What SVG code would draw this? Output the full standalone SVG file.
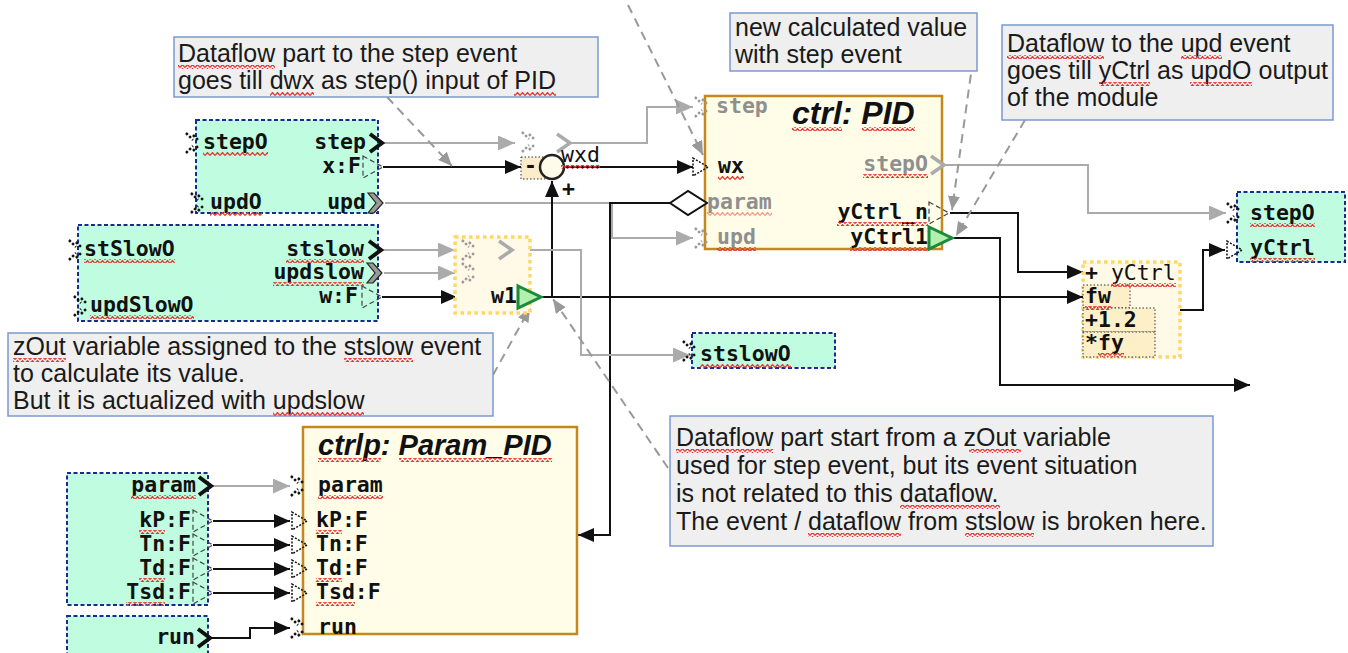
<svg xmlns="http://www.w3.org/2000/svg" width="1348" height="653" viewBox="0 0 1348 653">
<style>
.call{fill:#efefef;stroke:#7b9ad0;stroke-width:1.5}
.ct{font-family:"Liberation Sans",Arial,sans-serif;font-size:25px;fill:#1a1a1a}
.mono{font-family:"DejaVu Sans Mono",monospace;font-size:21.5px;font-weight:bold;fill:#111}
.mn{font-weight:normal}
.gt{fill:#8f8f8f}
.mint{fill:#c0fde0;stroke:#1c2a8f;stroke-width:2;stroke-dasharray:4,2.5}
.mod{fill:#fffde8;stroke:#c4891d;stroke-width:2.5}
.title{font-family:"Liberation Sans",Arial,sans-serif;font-weight:bold;font-style:italic;fill:#111}
.blk{fill:none;stroke:#111;stroke-width:2}
.gry{fill:none;stroke:#ababab;stroke-width:2}
.lead{fill:none;stroke:#999;stroke-width:2;stroke-dasharray:9,6}
.ylw{fill:#fff9e8;stroke:#ffd766;stroke-width:3.5;stroke-dasharray:3.5,3.5}
.cell{fill:#fdf0c8;stroke:#333;stroke-width:1;stroke-dasharray:1.5,2}
#spell rect{fill:url(#wv);height:4px}
</style>
<defs>
<pattern id="wv" patternUnits="userSpaceOnUse" width="5" height="4"><path d="M0,3.5L2.5,0.5L5,3.5" fill="none" stroke="#e53935" stroke-width="1.2"/></pattern>
<marker id="ab" viewBox="0 0 16 14" refX="16" refY="7" markerWidth="16" markerHeight="14" markerUnits="userSpaceOnUse" orient="auto"><path d="M0,0L16,7L0,14z" fill="#111"/></marker>
<marker id="ag" viewBox="0 0 16 14" refX="16" refY="7" markerWidth="17" markerHeight="15" markerUnits="userSpaceOnUse" orient="auto"><path d="M0,0L16,7L0,14z" fill="#ababab"/></marker>
<marker id="al" viewBox="0 0 14 12" refX="14" refY="6" markerWidth="14" markerHeight="12" markerUnits="userSpaceOnUse" orient="auto"><path d="M0,0L14,6L0,12z" fill="#999"/></marker>
<path id="evin" d="M-14,-10L-7,-3M-14,10L-7,3M-7,-8L-1,-2M-7,8L-1,2" fill="none" stroke="currentColor" stroke-width="2.5" stroke-dasharray="2.5,2"/>
<path id="din" d="M-14,-9L1,0L-14,9z" fill="none" stroke="#111" stroke-width="1.5" stroke-dasharray="2,1.5"/>
<path id="dout" d="M0,-11L20,0L0,11z" fill="none" stroke="#444" stroke-width="1.2" stroke-dasharray="5,3"/>
<path id="evo" d="M0,-9L12,0L0,9" fill="none" stroke="#111" stroke-width="4"/>
<path id="evog" d="M0,-10L6,-10L15,0L6,10L0,10L8,0z" fill="#9a9a9a" stroke="#222" stroke-width="1.2"/>
<path id="evgg" d="M0,-9L13,0L0,9" fill="none" stroke="#ababab" stroke-width="3.5"/>
<path id="gtri" d="M0,-11L23,0L0,11z" fill="#b3f0ad" stroke="#1b8a3b" stroke-width="3"/>
</defs>
<rect width="1348" height="653" fill="#fff"/>

<g id="connectors">
<path class="gry" d="M382,143H515" marker-end="url(#ag)"/>
<path class="blk" d="M383,167H521" marker-end="url(#ab)"/>
<path class="gry" d="M385,203H612V238H693" marker-end="url(#ag)"/>
<path class="blk" d="M670,203H610V535H578" marker-end="url(#ab)"/>
<path class="gry" d="M382,250H455" marker-end="url(#ag)"/>
<path class="gry" d="M384,273H455" marker-end="url(#ag)"/>
<path class="blk" d="M382,297H457" marker-end="url(#ab)"/>
<path class="blk" d="M541,297H1083" marker-end="url(#ab)"/>
<path class="blk" d="M552,297V181" marker-end="url(#ab)"/>
<path class="blk" d="M564,167H693" marker-end="url(#ab)"/>
<path class="gry" d="M572,143H647V107H693" marker-end="url(#ag)"/>
<path class="gry" d="M513,250H581V355H690" marker-end="url(#ag)"/>
<path class="gry" d="M944,165H1088V213H1226" marker-end="url(#ag)"/>
<path class="blk" d="M950,213H1018V272H1083" marker-end="url(#ab)"/>
<path class="blk" d="M954,238H1000V385H1250" marker-end="url(#ab)"/>
<path class="blk" d="M1180,310H1203V250H1225" marker-end="url(#ab)"/>
<path class="gry" d="M211,486H290" marker-end="url(#ag)"/>
<path class="blk" d="M213,521H290" marker-end="url(#ab)"/>
<path class="blk" d="M213,545H290" marker-end="url(#ab)"/>
<path class="blk" d="M213,569H290" marker-end="url(#ab)"/>
<path class="blk" d="M213,593H290" marker-end="url(#ab)"/>
<path class="blk" d="M210,638H250V628H290" marker-end="url(#ab)"/>
<path class="lead" d="M387,97L452,166" marker-end="url(#al)"/>
<path class="lead" d="M628,5L703,155" marker-end="url(#al)"/>
<path class="lead" d="M975,45L952,210" marker-end="url(#al)"/>
<path class="lead" d="M1025,120L956,236" marker-end="url(#al)"/>
<path class="lead" d="M493,375L530,308" marker-end="url(#al)"/>
<path class="lead" d="M668,468L553,299" marker-end="url(#al)"/>
</g>

<g id="note-step">
<rect class="call" x="174" y="37" width="424" height="60"/>
<text class="ct" x="178" y="62">Dataflow part to the step event</text>
<text class="ct" x="178" y="89">goes till dwx as step() input of PID</text>
</g>
<g id="note-new">
<rect class="call" x="730" y="13" width="247" height="58"/>
<text class="ct" x="735" y="36">new calculated value</text>
<text class="ct" x="735" y="63">with step event</text>
</g>
<g id="note-upd">
<rect class="call" x="1002" y="25" width="331" height="95"/>
<text class="ct" x="1007" y="52">Dataflow to the upd event</text>
<text class="ct" x="1007" y="79">goes till yCtrl as updO output</text>
<text class="ct" x="1007" y="106">of the module</text>
</g>
<g id="note-zout">
<rect class="call" x="8" y="333" width="485" height="83"/>
<text class="ct" x="13" y="355">zOut variable assigned to the stslow event</text>
<text class="ct" x="13" y="382">to calculate its value.</text>
<text class="ct" x="13" y="409">But it is actualized with updslow</text>
</g>
<g id="note-start">
<rect class="call" x="670" y="416" width="543" height="130"/>
<text class="ct" x="676" y="446">Dataflow part start from a zOut variable</text>
<text class="ct" x="676" y="474">used for step event, but its event situation</text>
<text class="ct" x="676" y="502">is not related to this dataflow.</text>
<text class="ct" x="676" y="530">The event / dataflow from stslow is broken here.</text>
</g>

<g id="in-step">
<rect class="mint" x="196" y="120" width="182" height="93"/>
<use href="#evin" x="200" y="143" color="#111"/>
<use href="#evin" x="205" y="203" color="#111"/>
<text class="mono" x="203" y="149">stepO</text>
<text class="mono" x="366" y="149" text-anchor="end">step</text>
<text class="mono" x="361" y="173" text-anchor="end">x:F</text>
<text class="mono" x="210" y="209">updO</text>
<text class="mono" x="366" y="209" text-anchor="end">upd</text>
<use href="#evo" x="370" y="143"/>
<use href="#dout" x="363" y="167"/>
<use href="#evog" x="368" y="203"/>
</g>

<g id="in-slow">
<rect class="mint" x="78" y="225" width="300" height="96"/>
<use href="#evin" x="83" y="250" color="#111"/>
<use href="#evin" x="88" y="306" color="#111"/>
<text class="mono" x="84" y="256">stSlowO</text>
<text class="mono" x="90" y="312">updSlowO</text>
<text class="mono" x="364" y="256" text-anchor="end">stslow</text>
<text class="mono" x="364" y="279" text-anchor="end">updslow</text>
<text class="mono" x="358" y="303" text-anchor="end">w:F</text>
<use href="#evo" x="369" y="250"/>
<use href="#evog" x="367" y="273"/>
<use href="#dout" x="362" y="297"/>
</g>

<g id="sum">
<rect x="521" y="157" width="24" height="22" fill="#fbeccb" stroke="#333" stroke-width="1" stroke-dasharray="1.5,2"/>
<use href="#evin" x="536" y="142" color="#999"/>
<use href="#evgg" x="557" y="143"/>
<circle cx="552" cy="167" r="12" fill="#fffbea" stroke="#222" stroke-width="2.5"/>
<text class="mono" x="524" y="173">-</text>
<text class="mono mn" x="561" y="162">wxd</text>
<text class="mono" x="562" y="196">+</text>
</g>

<g id="w1">
<rect class="ylw" x="455" y="237" width="75" height="76"/>
<use href="#evin" x="476" y="250" color="#999"/>
<use href="#evin" x="476" y="273" color="#999"/>
<use href="#evgg" x="499" y="250"/>
<text class="mono" x="517" y="303" text-anchor="end">w1</text>
<use href="#gtri" x="518" y="297"/>
</g>

<g id="ctrl">
<rect class="mod" x="705" y="96" width="237" height="153"/>
<text class="title" x="792" y="124" font-size="32">ctrl: PID</text>
<use href="#evin" x="709" y="107" color="#999"/>
<use href="#din" x="707" y="167"/>
<polygon points="670,203 688,191 707,203 688,215" fill="#fff" stroke="#111" stroke-width="2"/>
<use href="#evin" x="709" y="238" color="#999"/>
<text class="mono gt" x="716" y="113">step</text>
<text class="mono" x="718" y="173">wx</text>
<text class="mono gt" x="707" y="209">param</text>
<text class="mono gt" x="717" y="244">upd</text>
<text class="mono gt" x="928" y="171" text-anchor="end">stepO</text>
<text class="mono" x="928" y="219" text-anchor="end">yCtrl_n</text>
<text class="mono" x="928" y="244" text-anchor="end">yCtrl1</text>
<use href="#evgg" x="931" y="165"/>
<use href="#dout" x="929" y="213"/>
<use href="#gtri" x="929" y="238"/>
</g>

<g id="ctrlp">
<rect class="mod" x="303" y="427" width="274" height="207"/>
<text class="title" x="318" y="455" font-size="29">ctrlp: Param_PID</text>
<use href="#evin" x="305" y="486" color="#111"/>
<use href="#din" x="306" y="521"/>
<use href="#din" x="306" y="545"/>
<use href="#din" x="306" y="569"/>
<use href="#din" x="306" y="593"/>
<use href="#evin" x="305" y="628" color="#111"/>
<text class="mono" x="318" y="492">param</text>
<text class="mono" x="316" y="527">kP:F</text>
<text class="mono" x="316" y="551">Tn:F</text>
<text class="mono" x="316" y="575">Td:F</text>
<text class="mono" x="316" y="599">Tsd:F</text>
<text class="mono" x="318" y="634">run</text>
</g>

<g id="in-param">
<rect class="mint" x="67" y="473" width="141" height="132"/>
<text class="mono" x="196" y="492" text-anchor="end">param</text>
<text class="mono" x="191" y="527" text-anchor="end">kP:F</text>
<text class="mono" x="191" y="551" text-anchor="end">Tn:F</text>
<text class="mono" x="191" y="575" text-anchor="end">Td:F</text>
<text class="mono" x="191" y="599" text-anchor="end">Tsd:F</text>
<use href="#evo" x="199" y="486"/>
<use href="#dout" x="193" y="521"/>
<use href="#dout" x="193" y="545"/>
<use href="#dout" x="193" y="569"/>
<use href="#dout" x="193" y="593"/>
</g>

<g id="in-run">
<rect class="mint" x="67" y="616" width="141" height="45"/>
<text class="mono" x="195" y="644" text-anchor="end">run</text>
<use href="#evo" x="198" y="638"/>
</g>

<g id="out-stslow">
<rect class="mint" x="692" y="333" width="143" height="35"/>
<use href="#evin" x="697" y="351" color="#111"/>
<text class="mono" x="700" y="361">stslowO</text>
</g>

<g id="expr-yctrl">
<rect class="ylw" x="1083" y="262" width="97" height="95"/>
<rect class="cell" x="1083" y="285" width="47" height="23"/>
<rect class="cell" x="1083" y="308" width="72" height="24"/>
<rect class="cell" x="1083" y="332" width="72" height="25"/>
<text class="mono" x="1085" y="280">+ <tspan class="mn">yCtrl</tspan></text>
<text class="mono" x="1085" y="303">fw</text>
<text class="mono" x="1085" y="327">+1.2</text>
<text class="mono" x="1085" y="350">*fy</text>
</g>

<g id="out-main">
<rect class="mint" x="1237" y="192" width="108" height="70"/>
<use href="#evin" x="1241" y="213" color="#111"/>
<use href="#din" x="1241" y="250"/>
<text class="mono" x="1250" y="220">stepO</text>
<text class="mono" x="1250" y="255">yCtrl</text>
</g>

<g id="spell">
<rect x="178" y="65" width="97"/><rect x="270" y="92" width="44"/><rect x="514" y="92" width="42"/>
<rect x="1007" y="55" width="97"/><rect x="1181" y="55" width="41"/><rect x="1099" y="82" width="51"/><rect x="1190" y="82" width="62"/>
<rect x="13" y="358" width="53"/><rect x="344" y="358" width="69"/><rect x="273" y="412" width="91"/>
<rect x="676" y="449" width="97"/><rect x="969" y="449" width="52"/><rect x="900" y="505" width="100"/><rect x="808" y="533" width="93"/><rect x="965" y="533" width="69"/>
<rect x="203" y="152" width="65"/><rect x="210" y="212" width="52"/><rect x="84" y="259" width="91"/><rect x="90" y="315" width="104"/><rect x="286" y="259" width="78"/><rect x="273" y="282" width="91"/><rect x="561" y="165" width="39"/>
<rect x="792" y="127" width="50"/><rect x="862" y="127" width="53"/><rect x="718" y="176" width="26"/><rect x="707" y="212" width="65" opacity="0.5"/><rect x="717" y="247" width="39"/><rect x="863" y="174" width="65"/><rect x="837" y="222" width="91"/><rect x="850" y="247" width="78"/>
<rect x="318" y="458" width="63"/><rect x="399" y="458" width="153"/><rect x="318" y="495" width="65"/><rect x="316" y="530" width="26"/><rect x="316" y="578" width="26"/><rect x="316" y="602" width="39"/>
<rect x="131" y="495" width="65"/><rect x="139" y="530" width="26"/><rect x="139" y="578" width="26"/><rect x="126" y="602" width="39"/>
<rect x="700" y="364" width="91"/>
<rect x="1111" y="283" width="65"/><rect x="1085" y="306" width="26"/><rect x="1098" y="353" width="26"/>
<rect x="1250" y="223" width="65"/><rect x="1250" y="258" width="65"/>
</g>
</svg>
